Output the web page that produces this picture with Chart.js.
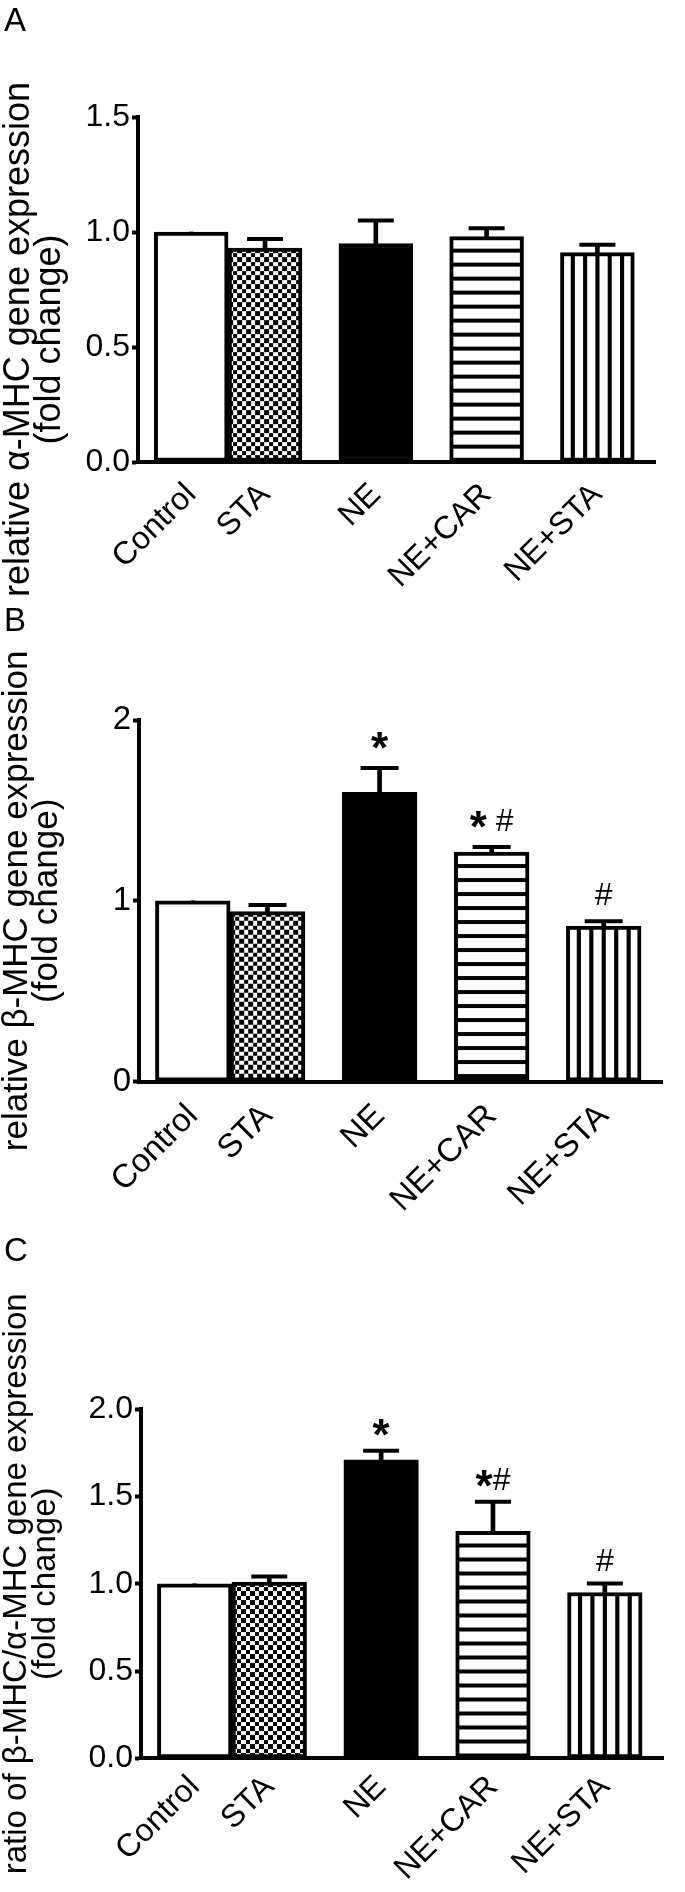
<!DOCTYPE html>
<html>
<head>
<meta charset="utf-8">
<script src="https://cdn.jsdelivr.net/npm/chart.js@4.4.0/dist/chart.umd.min.js"></script>
<style>
  html, body { margin: 0; padding: 0; background: #fff; }
  body { position: relative; width: 685px; height: 1892px; overflow: hidden; font-family: 'Liberation Sans', Arial, sans-serif; }
  .box { position: absolute; left: 0; width: 685px; }
  .tag { position: absolute; left: 4px; font-size: 33px; line-height: 1; color: #000; }
</style>
</head>
<body>
<div class="box" style="top:0;height:600px"><canvas id="chartAlpha"></canvas></div>
<div class="box" style="top:600px;height:640px"><canvas id="chartBeta"></canvas></div>
<div class="box" style="top:1240px;height:652px"><canvas id="chartRatio"></canvas></div>
<div class="tag" style="top:3px">A</div>
<div class="tag" style="top:603px">B</div>
<div class="tag" style="top:1233px">C</div>
<script>
const groups = ['Control', 'STA', 'NE', 'NE+CAR', 'NE+STA']

const alphaMean = [1.00, 0.93, 0.95, 0.98, 0.91]
const alphaSem = [0, 0.04, 0.10, 0.036, 0.035]

const betaMean = [1.00, 0.94, 1.60, 1.27, 0.86]
const betaSem = [0, 0.037, 0.135, 0.028, 0.027]
const betaMarks = ['', '', '*', '* #', '#']

const ratioMean = [1.00, 1.01, 1.71, 1.30, 0.95]
const ratioSem = [0, 0.032, 0.053, 0.17, 0.052]
const ratioMarks = ['', '', '*', '*#', '#']

// where the bars sit on the x axis: Control and STA touch, the rest keep a half-bar gap
const slot = [0, 1, 2.5, 4, 5.5]

Chart.defaults.font.family = "'Liberation Sans', Arial, Helvetica, sans-serif"
Chart.defaults.color = '#000'

function tile(w, h, draw) {
    const c = document.createElement('canvas')
    c.width = w
    c.height = h
    const g = c.getContext('2d')
    g.fillStyle = '#fff'
    g.fillRect(0, 0, w, h)
    g.fillStyle = '#000'
    draw(g)
    return c
}

function makeFills(ctx) {
    const checker = ctx.createPattern(tile(9, 9, g => {
        g.fillRect(0, 0, 5, 5)
        g.fillRect(5, 5, 4, 4)
    }), 'repeat')
    const rows = ctx.createPattern(tile(8, 14, g => {
        g.fillRect(0, 0, 8, 2)
        g.fillRect(0, 12, 8, 2)
    }), 'repeat')
    const cols = ctx.createPattern(tile(12, 8, g => {
        g.fillRect(0, 0, 2, 8)
        g.fillRect(10, 0, 2, 8)
    }), 'repeat')
    cols.splitInto = 6
    return ['#ffffff', checker, '#000000', rows, cols]
}

// pin every pattern to its own bar so stripes line up with the bar edges
const pinFills = {
    id: 'pinFills',
    beforeDatasetsDraw(chart) {
        const fills = chart.data.datasets[0].backgroundColor
        chart.getDatasetMeta(0).data.forEach((bar, i) => {
            const f = fills[i]
            if (!(f instanceof CanvasPattern)) return
            const p = bar.getProps(['x', 'y', 'width'], true)
            let m = new DOMMatrix().translate(p.x - p.width / 2, p.y)
            if (f.splitInto) m = m.scale(p.width / f.splitInto / 12, 1)
            f.setTransform(m)
        })
    }
}

function markPlugin(o) {
    return {
        id: 'marks',
        afterDatasetsDraw(chart) {
            if (!o.marks) return
            const { ctx, scales } = chart
            const starFont = 'bold 44px ' + Chart.defaults.font.family
            const hashFont = '32px ' + Chart.defaults.font.family
            ctx.save()
            ctx.fillStyle = '#000'
            ctx.textAlign = 'left'
            ctx.textBaseline = 'alphabetic'
            o.marks.forEach((txt, i) => {
                if (!txt) return
                const cx = scales.x.getPixelForValue(slot[i])
                const cy = scales.y.getPixelForValue(o.mean[i] + o.sem[i]) - o.gap
                const parts = txt.split('').map(ch => {
                    ctx.font = ch === '*' ? starFont : hashFont
                    const m = ctx.measureText(ch)
                    return { ch, font: ctx.font, w: m.width, up: m.actualBoundingBoxAscent, down: m.actualBoundingBoxDescent }
                })
                let x = cx - parts.reduce((s, p) => s + p.w, 0) / 2
                parts.forEach(p => {
                    if (p.ch !== ' ') {
                        ctx.font = p.font
                        ctx.fillText(p.ch, x, cy + (p.up - p.down) / 2)
                    }
                    x += p.w
                })
            })
            ctx.restore()
        }
    }
}

function drawPanel(id, o) {
    const canvas = document.getElementById(id)
    const fills = makeFills(canvas.getContext('2d'))
    // trailing spaces slide the rotated axis title down along the axis
    const pad = ' '.repeat(o.titleSlide || 0)
    new Chart(canvas, {
        type: 'bar',
        data: {
            datasets: [{
                data: slot.map((x, i) => ({ x, y: o.mean[i] })),
                backgroundColor: fills,
                borderColor: '#000',
                borderWidth: 4,
                borderSkipped: false,
                grouped: false,
                barPercentage: 1,
                categoryPercentage: 1,
                order: 1
            }, {
                // error bar stems
                data: slot.map((x, i) => ({ x, y: [o.mean[i], o.mean[i] + o.sem[i]] })),
                backgroundColor: '#000',
                borderWidth: 0,
                barThickness: 4,
                grouped: false,
                order: 2
            }, {
                // error bar caps
                type: 'line',
                data: slot.map((x, i) => ({ x, y: o.sem[i] > 0 ? o.mean[i] + o.sem[i] : null })),
                showLine: false,
                pointStyle: 'line',
                pointRadius: o.cap,
                pointHoverRadius: o.cap,
                pointBorderWidth: 4,
                pointHoverBorderWidth: 4,
                pointBorderColor: '#000',
                borderColor: '#000',
                order: 0
            }]
        },
        options: {
            responsive: true,
            maintainAspectRatio: false,
            animation: false,
            events: [],
            layout: { padding: { top: o.top, right: o.right, bottom: 0, left: 0 } },
            plugins: {
                legend: { display: false },
                tooltip: { enabled: false }
            },
            scales: {
                x: {
                    type: 'linear',
                    min: -0.72,
                    max: 6.28,
                    offset: false,
                    afterBuildTicks: axis => { axis.ticks = slot.map(v => ({ value: v })) },
                    afterFit: axis => { axis.height = o.xh },
                    grid: { display: false, drawTicks: false },
                    border: { display: true, color: '#000', width: 4 },
                    ticks: {
                        autoSkip: false,
                        maxRotation: 45,
                        minRotation: 45,
                        padding: o.xpad,
                        color: '#000',
                        font: { size: o.tick },
                        callback: v => groups[slot.indexOf(v)]
                    }
                },
                y: {
                    min: 0,
                    max: o.max,
                    afterFit: axis => { axis.width = o.yw },
                    grid: { display: true, drawOnChartArea: false, drawTicks: true, tickLength: 6, tickWidth: 4, tickColor: '#000', color: '#000' },
                    border: { display: true, color: '#000', width: 4 },
                    ticks: {
                        stepSize: o.step,
                        padding: 2,
                        color: '#000',
                        font: { size: o.tick },
                        callback: v => o.digits ? v.toFixed(o.digits) : String(v)
                    },
                    title: {
                        display: true,
                        text: o.title.map(t => t + pad),
                        color: '#000',
                        font: { size: o.titleSize, lineHeight: 0.87 },
                        padding: { top: o.titlePad, bottom: 0 }
                    }
                }
            }
        },
        plugins: [pinFills, markPlugin(o)]
    })
}

drawPanel('chartAlpha', {
    mean: alphaMean, sem: alphaSem, marks: null,
    title: ['relative \u03B1-MHC gene expression', '(fold change)'],
    max: 1.5, step: 0.5, digits: 1,
    top: 117, right: 30, yw: 138, xh: 138, xpad: 14,
    tick: 32, titleSize: 36, titlePad: 3, titleSlide: 10, cap: 18, gap: 24
})

drawPanel('chartBeta', {
    mean: betaMean, sem: betaSem, marks: betaMarks,
    title: ['relative \u03B2-MHC gene expression', '(fold change)'],
    max: 2, step: 1, digits: 0,
    top: 120, right: 1, yw: 139, xh: 158.3, xpad: 15,
    tick: 33, titleSize: 35, titlePad: 2, titleSlide: 0, cap: 19, gap: 27
})

drawPanel('chartRatio', {
    mean: ratioMean, sem: ratioSem, marks: ratioMarks,
    title: ['ratio of \u03B2-MHC/\u03B1-MHC gene expression', '(fold change)'],
    max: 2, step: 0.5, digits: 1,
    top: 169.3, right: 15, yw: 141, xh: 133.7, xpad: 10,
    tick: 32, titleSize: 33, titlePad: 3, titleSlide: 0, cap: 18, gap: 23
})
</script>
</body>
</html>
